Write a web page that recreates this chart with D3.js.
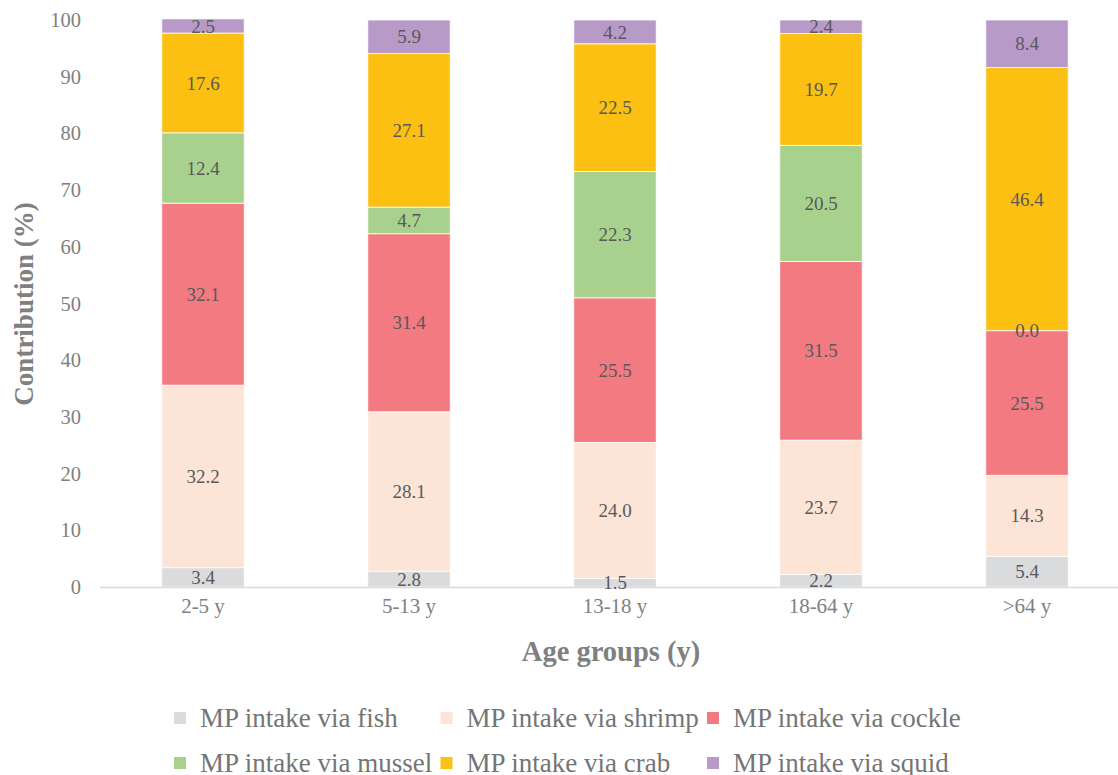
<!DOCTYPE html>
<html>
<head>
<meta charset="utf-8">
<script src="https://cdn.jsdelivr.net/npm/d3@7"></script>
</head>
<body style="margin:0; background:#fff">
<svg id="chart" width="1118" height="775" style="display:block"></svg>
<script>
// Age groups along the x axis
const ageGroups = ["2-5 y", "5-13 y", "13-18 y", "18-64 y", ">64 y"];

// Contribution (%) of each food source, per age group
const fish    = [3.4, 2.8, 1.5, 2.2, 5.4];
const shrimp  = [32.2, 28.1, 24.0, 23.7, 14.3];
const cockle  = [32.1, 31.4, 25.5, 31.5, 25.5];
const mussel  = [12.4, 4.7, 22.3, 20.5, 0.0];
const crab    = [17.6, 27.1, 22.5, 19.7, 46.4];
const squid   = [2.5, 5.9, 4.2, 2.4, 8.4];

const seriesNames = [
  "MP intake via fish", "MP intake via shrimp", "MP intake via cockle",
  "MP intake via mussel", "MP intake via crab", "MP intake via squid"
];
const seriesValues = [fish, shrimp, cockle, mussel, crab, squid];
const seriesColors = ["#DADBDD", "#FCE4D7", "#F37A81", "#A9D18E", "#FBC011", "#B79AC8"];

const yTicks = [0, 10, 20, 30, 40, 50, 60, 70, 80, 90, 100];

const FONT = "'Liberation Serif', 'Times New Roman', serif";

const svg = d3.select("#chart");

const x = d3.scaleBand()
  .domain(ageGroups)
  .range([100, 1130])
  .paddingInner(0.6)
  .paddingOuter(0.3);

const y = d3.scaleLinear().domain([0, 100]).range([587, 20]);

// rows for the stack
const rows = ageGroups.map((g, i) => {
  const r = { group: g };
  seriesNames.forEach((s, k) => { r[s] = seriesValues[k][i]; });
  return r;
});
const stacked = d3.stack().keys(seriesNames)(rows);

// bars
const layers = svg.append("g").selectAll("g")
  .data(stacked).join("g")
  .attr("fill", (d, i) => seriesColors[i]);

layers.selectAll("rect")
  .data(d => d).join("rect")
  .attr("x", d => x(d.data.group))
  .attr("width", x.bandwidth())
  .attr("y", d => y(d[1]))
  .attr("height", d => y(d[0]) - y(d[1]))
  .attr("stroke", "#ffffff")
  .attr("stroke-width", 0.8);

// x axis baseline
svg.append("line")
  .attr("x1", 100).attr("x2", 1118)
  .attr("y1", y(0) + 0.5).attr("y2", y(0) + 0.5)
  .attr("stroke", "#D9D9D9").attr("stroke-width", 1.5);

// value labels inside each segment
const labels = svg.append("g")
  .attr("fill", "#595959")
  .attr("text-anchor", "middle");
stacked.forEach(layer => {
  labels.selectAll(null)
    .data(layer).join("text")
    .attr("x", d => x(d.data.group) + x.bandwidth() / 2)
    .attr("y", d => y((d[0] + d[1]) / 2))
    .attr("dy", "0.35em")
    .style("font-family", FONT)
    .style("font-size", "19px")
    .text(d => (d[1] - d[0]).toFixed(1));
});

// y axis (labels only)
const yAxis = d3.axisLeft(y).tickValues(yTicks).tickSize(0).tickPadding(0);
const gy = svg.append("g").attr("transform", "translate(81,0)").call(yAxis);
gy.select(".domain").remove();
gy.selectAll("text")
  .style("font-family", FONT)
  .style("font-size", "20.5px")
  .attr("fill", "#808080");

// x axis category labels
const xAxis = d3.axisBottom(x).tickSize(0).tickPadding(0);
const gx = svg.append("g").attr("transform", "translate(0,598)").call(xAxis);
gx.select(".domain").remove();
gx.selectAll("text")
  .style("font-family", FONT)
  .style("font-size", "21px")
  .attr("fill", "#808080");

// axis titles
svg.append("text")
  .attr("x", 611).attr("y", 661)
  .attr("text-anchor", "middle")
  .style("font-family", FONT)
  .style("font-size", "28.5px").style("font-weight", "bold")
  .attr("fill", "#808080")
  .text("Age groups (y)");

svg.append("text")
  .attr("transform", "translate(33,304) rotate(-90)")
  .attr("text-anchor", "middle")
  .style("font-family", FONT)
  .style("font-size", "27px").style("font-weight", "bold")
  .attr("fill", "#808080")
  .text("Contribution (%)");

// legend: two rows of three
const legend = svg.append("g");
const legendItems = legend.selectAll("g")
  .data(seriesNames).join("g")
  .attr("transform", (d, i) => `translate(${200 + (i % 3) * 266.5},${727 + Math.floor(i / 3) * 45})`);
legendItems.append("rect")
  .attr("x", -26).attr("y", -15).attr("width", 12).attr("height", 12)
  .attr("fill", (d, i) => seriesColors[i]);
legendItems.append("text")
  .attr("x", 0).attr("y", 0)
  .style("font-family", FONT)
  .style("font-size", "27px")
  .attr("fill", "#757575")
  .text(d => d);
</script>
</body>
</html>
